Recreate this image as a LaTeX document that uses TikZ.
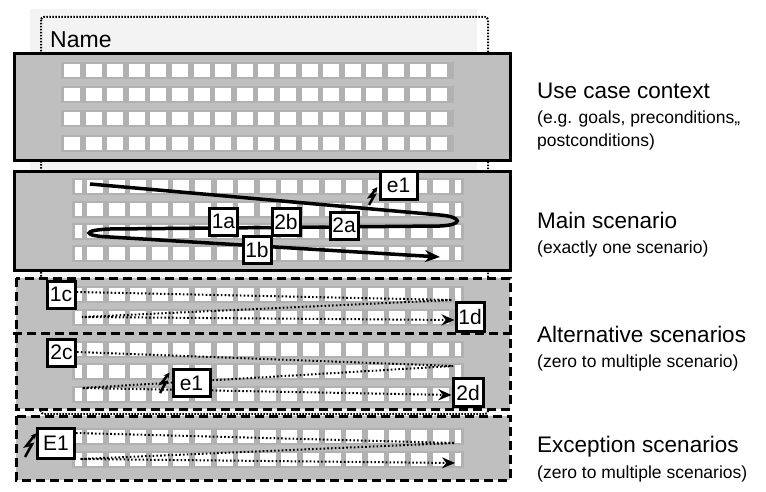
\documentclass[tikz,border=0pt]{standalone}
\usepackage{fontspec}
\setmainfont{Liberation Sans}
\usetikzlibrary{arrows.meta}
\definecolor{boxgray}{HTML}{BFBFBF}
\definecolor{rowgray}{HTML}{B1B1B1}
\definecolor{pagegray}{HTML}{F3F3F3}
\tikzset{
  steplabel/.style={draw,line width=3pt,fill=white,inner sep=1pt,minimum width=28pt,minimum height=27pt,font=\fontsize{21}{21}\selectfont},
  mainflow/.style={line width=3.5pt,-{Stealth[length=15pt,width=12pt]}},
  altflow/.style={line width=2pt,dash pattern=on 1.6pt off 2.2pt,-{Stealth[length=13pt,width=11pt]}},
  flashline/.style={line width=2.5pt,line join=miter,-{Stealth[length=6pt,width=6pt]}},
  scenbox/.style={line width=3pt,dash pattern=on 9pt off 5pt},
  title/.style={anchor=base west,inner sep=0pt,font=\fontsize{22.5}{22.5}\selectfont},
  subtitle/.style={anchor=base west,inner sep=0pt,font=\fontsize{17.5}{17.5}\selectfont}
}
% one row of text cells, full width
\newcommand{\fullrow}[1]{%
  \fill[rowgray] (61,#1) rectangle (454,#1+17);
  \foreach \i in {0,...,17} \fill[white] (64+21.6*\i,#1+2) rectangle (80+21.6*\i,#1+15);}
% one row of text cells, cut at both ends
\newcommand{\cutrow}[1]{%
  \fill[rowgray] (72,#1) rectangle (464,#1+17);
  \fill[white] (75,#1+2) rectangle (82,#1+15);
  \foreach \i in {0,...,16} \fill[white] (87+21.6*\i,#1+2) rectangle (103+21.6*\i,#1+15);
  \fill[white] (455,#1+2) rectangle (461,#1+15);}
% lightning bolt
\newcommand{\flash}[2]{\draw[flashline,shift={(#1)},scale=#2] (0,0) -- (5,-9) -- (1,-8) -- (8,-17);}
\begin{document}
\begin{tikzpicture}[x=1pt,y=-1pt,line join=miter]
	\useasboundingbox (0,0) rectangle (766,492);
	% template frame
	\fill[pagegray] (30,9) rectangle (477,414);
	\draw[line width=2pt,dash pattern=on 1.5pt off 1.5pt,rounded corners=3pt] (41,17) rectangle (488,414);
	\node[title,font=\fontsize{23}{23}\selectfont] (name) at (50,48) {Name};
	% use case context
	\draw[line width=3.5pt,fill=boxgray] (14.5,53.5) rectangle (510.5,160.5);
	\foreach \y in {62,86,110,135} {\fullrow{\y}}
	% main scenario
	\draw[line width=3.5pt,fill=boxgray] (14.5,171.5) rectangle (510.5,270.5);
	\foreach \y in {178,201,223,245} {\cutrow{\y}}
	% alternative and exception scenarios
	\fill[boxgray] (16,278) rectangle (510,409);
	\fill[boxgray] (16,416) rectangle (510,480);
	\foreach \y in {286,309,341,363,386,428,451} {\cutrow{\y}}
	\draw[scenbox] (16,278) rectangle (510,409);
	\draw[scenbox] (13,333) -- (513,333);
	\draw[scenbox] (16,416) rectangle (510,480);
	% main flow
	\coordinate (m0) at (90,184) ; \coordinate (m1) at (440,215) ;
	\coordinate (m2) at (440,226) ; \coordinate (m3) at (110,229) ;
	\coordinate (m4) at (110,237) ; \coordinate (m5) at (440,257) ;
	\draw[mainflow] (m0) -- (m1) .. controls (463,217) and (463,225) .. (m2) -- (m3) .. controls (82,230) and (82,236) .. (m4) -- (m5) ;
	\node[steplabel] (n1a) at (223.5,221.5) {1a};
	\node[steplabel] (n2b) at (286,221.5) {2b};
	\node[steplabel] (n2a) at (344,225.5) {2a};
	\node[steplabel] (n1b) at (257,250) {1b};
	\coordinate (f1) at (369,205) ; \flash{f1}{1.05}
	\node[steplabel,minimum width=37pt] (ne1) at (398.5,185.5) {e1};
	% alternative flow 1
	\node[steplabel] (n1c) at (61,294.5) {1c};
	\coordinate (a1) at (452,300) ; \coordinate (a2) at (82,317) ;
	\node[steplabel,minimum height=29pt] (n1d) at (470,317) {1d};
	\draw[altflow] (n1c.east |- 0,292) -- (a1) -- (a2) -- (n1d.west |- 0,320) ;
	% alternative flow 2
	\node[steplabel] (n2c) at (61.5,352.5) {2c};
	\coordinate (b1) at (453,366) ; \coordinate (b2) at (82,388) ;
	\node[steplabel,minimum width=30pt,minimum height=28pt] (n2d) at (468,392.5) {2d};
	\draw[altflow] (n2c.east |- 0,352) -- (b1) -- (b2) -- (n2d.west |- 0,395) ;
	\coordinate (f2) at (160,393) ; \flash{f2}{1.2}
	\node[steplabel,minimum width=37pt] (ne1b) at (191.5,383) {e1};
	% exception flow
	\node[steplabel,minimum width=37pt,minimum height=30pt] (nE1) at (56,443.5) {E1};
	\coordinate (c1) at (455,443) ; \coordinate (c2) at (80,459) ; \coordinate (c3) at (455,463) ;
	\draw[altflow] (nE1.east |- 0,433) -- (c1) -- (c2) -- (c3) ;
	\coordinate (f3) at (25,457) ; \flash{f3}{1.4}
	% descriptions
	\node[title] (ctx) at (537,99) {Use case context};
	\node[subtitle] (ctxa) at (537,124) {(e.g. goals, preconditions,,};
	\node[subtitle] (ctxb) at (537,147) {postconditions)};
	\node[title] (main) at (537,228) {Main scenario};
	\node[subtitle] (maina) at (537,253) {(exactly one scenario)};
	\node[title] (alt) at (537,342) {Alternative scenarios};
	\node[subtitle] (alta) at (537,367) {(zero to multiple scenario)};
	\node[title] (exc) at (537,452) {Exception scenarios};
	\node[subtitle] (exca) at (537,478) {(zero to multiple scenarios)};
\end{tikzpicture}
\end{document}
